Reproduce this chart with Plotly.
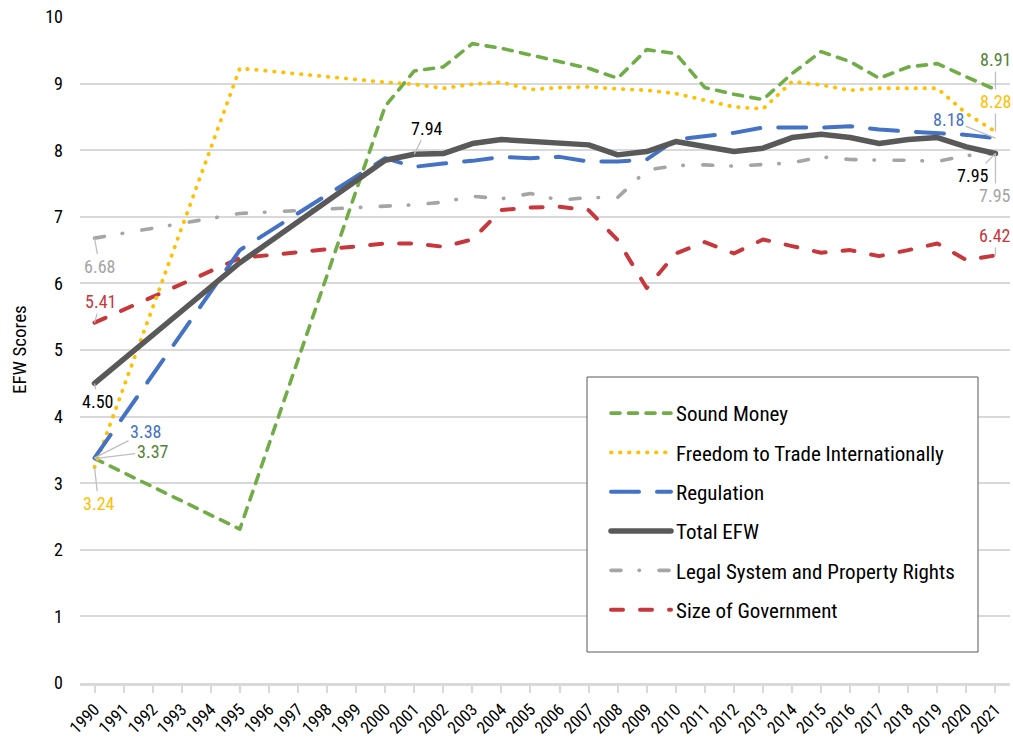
import plotly.graph_objects as go

# Survey years (1990 and 1995, then annual from 2000)
years = [1990, 1995] + list(range(2000, 2022))
all_years = list(range(1990, 2022))

sound_money = [3.37, 2.31, 8.66, 9.19, 9.25, 9.60, 9.53, 9.43, 9.33, 9.23, 9.08, 9.51,
               9.45, 8.94, 8.84, 8.76, 9.15, 9.48, 9.33, 9.08, 9.25, 9.30, 9.10, 8.91]
freedom_trade = [3.24, 9.23, 9.02, 8.99, 8.93, 8.99, 9.02, 8.91, 8.94, 8.95, 8.92, 8.90,
                 8.85, 8.75, 8.65, 8.62, 9.03, 8.98, 8.90, 8.93, 8.93, 8.93, 8.55, 8.28]
regulation = [3.38, 6.50, 7.88, 7.75, 7.80, 7.84, 7.90, 7.88, 7.90, 7.83, 7.83, 7.86,
              8.16, 8.21, 8.26, 8.34, 8.34, 8.34, 8.36, 8.31, 8.28, 8.25, 8.23, 8.18]
total_efw = [4.50, 6.31, 7.85, 7.94, 7.95, 8.10, 8.16, 8.14, 8.11, 8.08, 7.93, 7.98,
             8.13, 8.05, 7.98, 8.03, 8.19, 8.24, 8.19, 8.10, 8.16, 8.19, 8.05, 7.95]
legal_system = [6.68, 7.05, 7.16, 7.18, 7.22, 7.31, 7.27, 7.35, 7.25, 7.29, 7.29, 7.70,
                7.77, 7.78, 7.76, 7.78, 7.81, 7.90, 7.86, 7.85, 7.85, 7.83, 7.92, 7.95]
size_gov = [5.41, 6.38, 6.60, 6.60, 6.55, 6.66, 7.10, 7.14, 7.15, 7.10, 6.65, 5.93,
            6.45, 6.62, 6.45, 6.66, 6.56, 6.46, 6.50, 6.41, 6.50, 6.60, 6.35, 6.42]

FONT = "Liberation Sans Narrow, Roboto Condensed, Arial Narrow, Roboto, sans-serif"

# name, values, line colour, label colour, width, dash, legend rank
series = [
    ("Legal System and Property Rights", legal_system, "#A5A5A5", "#A5A5A5", 3.6,
     "10px,18px,0.5px,19.5px", 5),
    ("Size of Government", size_gov, "#C7373B", "#C7373B", 4, "12px,17px", 6),
    ("Sound Money", sound_money, "#70AD47", "#548235", 3.6, "9px,8.5px", 1),
    ("Freedom to Trade Internationally", freedom_trade, "#FFC000", "#FFC000", 3.8,
     "0.5px,8.5px", 2),
    ("Regulation", regulation, "#4472C4", "#4472C4", 4, "28px,18px", 3),
    ("Total EFW", total_efw, "#595959", "#000000", 5.5, "solid", 4),
]

fig = go.Figure()
for name, vals, color, _, width, dash, rank in series:
    fig.add_trace(go.Scatter(
        x=years, y=vals, name=name, mode="lines",
        line=dict(color=color, width=width, dash=dash),
        legendrank=rank, legendgroup=name,
    ))

label_colors = {s[0]: s[3] for s in series}
values = {s[0]: s[1] for s in series}

# (series, year, x offset, y offset) for the value call-outs
callouts = [
    ("Legal System and Property Rights", 1990, 5, 28),
    ("Size of Government", 1990, 6, -21),
    ("Total EFW", 1990, 3, 18),
    ("Regulation", 1990, 51, -26),
    ("Sound Money", 1990, 58, -7),
    ("Freedom to Trade Internationally", 1990, 4, 36),
    ("Total EFW", 2001, 13, -26),
    ("Sound Money", 2021, 0, -30),
    ("Freedom to Trade Internationally", 2021, 0, -30),
    ("Regulation", 2021, -47, -19),
    ("Total EFW", 2021, -22, 22),
    ("Legal System and Property Rights", 2021, 0, 42),
    ("Size of Government", 2021, 0, -20),
]
for name, yr, dx, dy in callouts:
    v = values[name][years.index(yr)]
    fig.add_annotation(
        x=yr, y=v, text=f"{v:.2f}", ax=dx, ay=dy,
        showarrow=True, arrowhead=0, arrowwidth=1.3, arrowcolor="#BFBFBF",
        standoff=0, startstandoff=0,
        font=dict(family=FONT, size=18, color=label_colors[name]),
    )

fig.add_annotation(
    text="EFW Scores", xref="paper", yref="paper", x=0, y=0.5,
    xanchor="center", yanchor="middle",
    xshift=-61, textangle=-90, showarrow=False,
    font=dict(family=FONT, size=19, color="#000000"),
)

# Legend frame
fig.add_shape(
    type="rect", xref="paper", yref="paper",
    x0=(587 - 80) / 930, x1=(978 - 80) / 930,
    y0=(683 - 652) / 666, y1=(683 - 377) / 666,
    line=dict(color="#595959", width=1), fillcolor="white", layer="above",
)

fig.update_layout(
    width=1013, height=745,
    margin=dict(l=80, r=3, t=17, b=62),
    paper_bgcolor="white", plot_bgcolor="white",
    font=dict(family=FONT, size=18, color="#000000"),
    showlegend=True,
    legend=dict(
        x=(606 - 80) / 930, y=(683 - 393) / 666, xanchor="left", yanchor="top",
        bgcolor="rgba(0,0,0,0)", borderwidth=0,
        font=dict(family=FONT, size=21, color="#000000"),
        tracegroupgap=9, itemwidth=60,
    ),
    xaxis=dict(
        range=[1989.5, 2021.5], tickmode="array", tickvals=all_years,
        ticktext=[str(y) for y in all_years], tickangle=-45,
        showgrid=False, zeroline=False,
        showline=True, linecolor="#D9D9D9", linewidth=3,
        ticks="outside", ticklen=7, tickwidth=2, tickcolor="#D9D9D9",
        tickfont=dict(family=FONT, size=17, color="#000000"),
        fixedrange=True,
    ),
    yaxis=dict(
        range=[0, 10], dtick=1, showgrid=True, gridcolor="#D9D9D9", gridwidth=1.5,
        zeroline=False, showline=False, ticks="", ticklabelstandoff=16,
        tickfont=dict(family=FONT, size=18, color="#000000"),
        fixedrange=True,
    ),
)

round_caps = """
document.querySelectorAll('.scatterlayer path.js-line, .legendlines path')
  .forEach(function (p) { p.style.strokeLinecap = 'round'; p.style.strokeLinejoin = 'round'; });
"""

fig.write_html("out.html", post_script=round_caps)
